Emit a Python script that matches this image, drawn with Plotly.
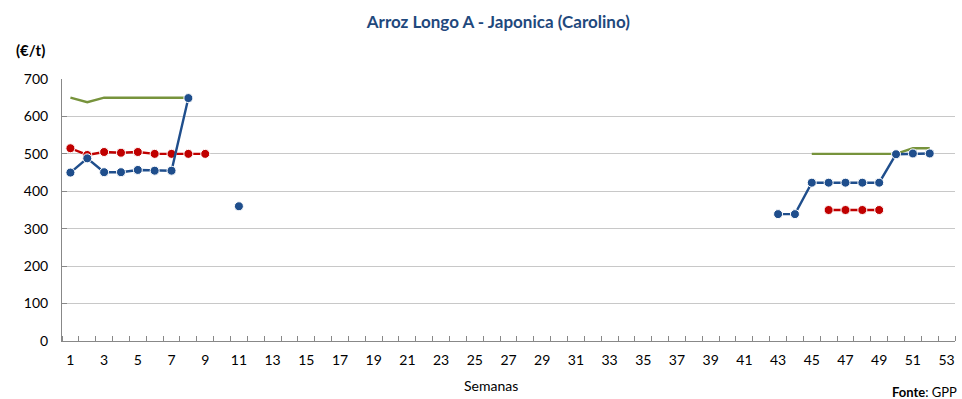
import plotly.graph_objects as go

weeks = list(range(1, 54))

# Weekly price series (€/t); None marks weeks without quotes
green_vals = {1: 650, 2: 638, 3: 650, 4: 650, 5: 650, 6: 650, 7: 650, 8: 650,
              45: 500, 46: 500, 47: 500, 48: 500, 49: 500, 50: 500, 51: 515, 52: 515}
red_vals = {1: 515, 2: 497, 3: 505, 4: 503, 5: 505, 6: 500, 7: 500, 8: 500, 9: 500,
            46: 350, 47: 350, 48: 350, 49: 350}
blue_vals = {1: 450, 2: 488, 3: 451, 4: 451, 5: 457, 6: 455, 7: 455, 8: 649,
             11: 360,
             43: 339, 44: 339, 45: 423, 46: 423, 47: 423, 48: 423, 49: 423,
             50: 499, 51: 501, 52: 501}

green = [green_vals.get(w) for w in weeks]
red = [red_vals.get(w) for w in weeks]
blue = [blue_vals.get(w) for w in weeks]

x_tick_labels = [str(w) for w in range(1, 54, 2)]
y_ticks = list(range(0, 701, 100))

FONT = "Lato, Liberation Sans, Arial, sans-serif"

fig = go.Figure()
fig.add_trace(go.Scatter(x=weeks, y=green, mode="lines",
                         line=dict(color="#77933C", width=2.4),
                         connectgaps=False, showlegend=False))
fig.add_trace(go.Scatter(x=weeks, y=red, mode="lines+markers",
                         line=dict(color="#C00000", width=2.4),
                         marker=dict(size=9, color="#C00000", line=dict(color="white", width=1)),
                         connectgaps=False, showlegend=False))
fig.add_trace(go.Scatter(x=weeks, y=blue, mode="lines+markers",
                         line=dict(color="#1F4E8C", width=2.4),
                         marker=dict(size=9, color="#1F4E8C", line=dict(color="white", width=1)),
                         connectgaps=False, showlegend=False))

fig.update_layout(
    width=962, height=399,
    margin=dict(l=62, r=7, t=79, b=58),
    paper_bgcolor="white", plot_bgcolor="white",
    font=dict(family=FONT, size=14, color="#000000"),
    title=dict(text="<b>Arroz Longo A - Japonica (Carolino)</b>",
               x=0.518, xanchor="center", y=0.945, yanchor="middle",
               font=dict(family=FONT, size=17, color="#1F497D")),
    xaxis=dict(range=[0.5, 53.5], tickmode="array",
               tickvals=list(range(1, 54, 2)), ticktext=x_tick_labels,
               ticks="", showgrid=False, zeroline=False,
               showline=True, linecolor="#888888", linewidth=1,
               tickfont=dict(size=14), ticklabelstandoff=6,
               minor=dict(ticks="inside", tick0=0.5, dtick=1, ticklen=5,
                          tickcolor="#888888", showgrid=False)),
    yaxis=dict(range=[0, 700], tickmode="array", tickvals=y_ticks,
               ticks="inside", ticklen=5, tickcolor="#888888",
               showgrid=True, gridcolor="#C8C8C8", gridwidth=1,
               zeroline=False, showline=True, linecolor="#888888", linewidth=1,
               tickfont=dict(size=14), ticklabelstandoff=10),
)

fig.add_annotation(text="<b>(€/t)</b>", xref="paper", yref="paper",
                   x=-0.054, y=1.11, xanchor="left", yanchor="middle",
                   showarrow=False, font=dict(size=15))
fig.add_annotation(text="Semanas", xref="paper", yref="paper",
                   x=0.48, y=-0.168, xanchor="center", yanchor="middle",
                   showarrow=False, font=dict(size=14))
fig.add_annotation(text="<b>Fonte</b>: GPP", xref="paper", yref="paper",
                   x=1.004, y=-0.195, xanchor="right", yanchor="middle",
                   showarrow=False, font=dict(size=13))

fig.write_html("out.html")
